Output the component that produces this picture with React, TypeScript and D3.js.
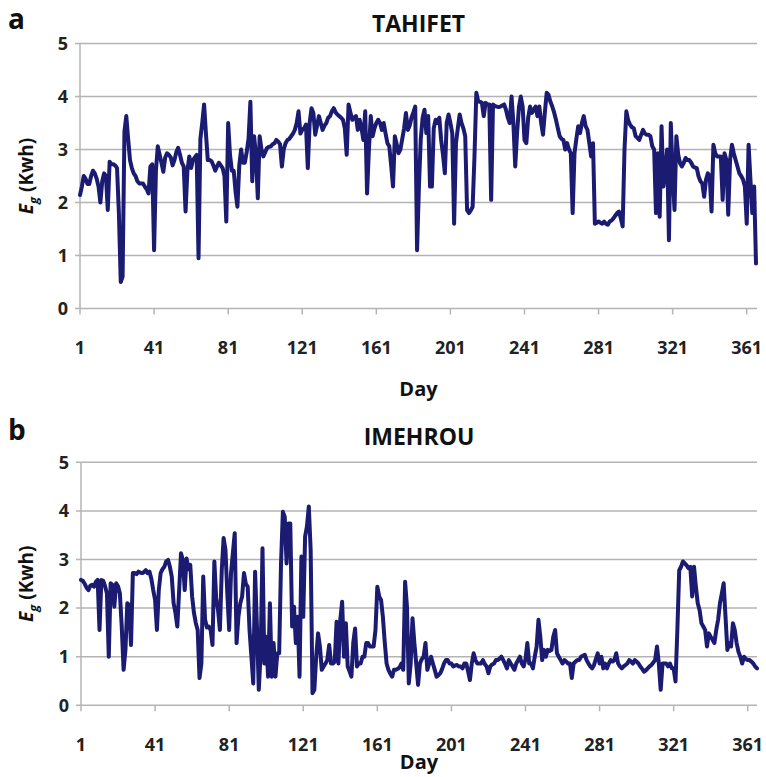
import React from "react";
import * as d3 from "d3";

// Daily energy yield E_g (kWh), one value per day of the year
const tahifet: number[] = [
  2.14, 2.3, 2.5, 2.45, 2.35, 2.35, 2.5, 2.6, 2.55, 2.45,
  2.3, 2.0, 2.4, 2.55, 2.5, 1.86, 2.77, 2.72, 2.72, 2.7,
  2.65, 1.8, 0.5, 0.6, 3.34, 3.63, 3.2, 2.8, 2.65, 2.55,
  2.5, 2.4, 2.36, 2.36, 2.36, 2.3, 2.25, 2.17, 2.68, 2.72,
  1.1, 2.6, 3.06, 2.9, 2.75, 2.58, 2.85, 2.93, 2.9, 2.85,
  2.7, 2.8, 2.95, 3.03, 2.9, 2.75, 2.68, 1.83, 2.6, 2.87,
  2.65, 2.8, 2.85, 2.9, 0.95, 3.2, 3.5, 3.85, 3.3, 2.8,
  2.8, 2.78, 2.7, 2.6, 2.68, 2.75, 2.7, 2.65, 2.5, 1.64,
  3.5, 2.9, 2.6, 2.6, 2.2, 1.92, 2.7, 3.0, 2.75, 2.75,
  2.95, 3.2, 3.9, 2.4, 3.25, 2.9, 2.08, 3.25, 3.0, 2.87,
  2.95, 3.03, 3.05, 3.06, 3.1, 3.12, 3.18, 3.15, 3.1, 2.68,
  3.0, 3.12, 3.18, 3.2, 3.25, 3.3, 3.37, 3.5, 3.72, 3.3,
  3.37, 3.4, 3.47, 2.65, 3.5, 3.78, 3.69, 3.28, 3.45, 3.63,
  3.5, 3.37, 3.45, 3.5, 3.6, 3.63, 3.72, 3.78, 3.7, 3.66,
  3.63, 3.6, 3.56, 3.4, 2.9, 3.85, 3.7, 3.56, 3.6, 3.63,
  3.37, 3.56, 3.4, 3.18, 3.72, 2.17, 3.0, 3.63, 3.25, 3.4,
  3.5, 3.56, 3.5, 3.37, 3.5, 3.3, 3.12, 3.06, 2.7, 2.3,
  3.25, 3.1, 2.93, 3.0, 3.2, 3.4, 3.69, 3.37, 3.45, 3.6,
  3.7, 3.81, 1.1, 2.3, 3.2, 3.6, 3.75, 3.31, 3.63, 2.3,
  2.3, 3.4, 3.56, 3.5, 3.6, 3.18, 2.9, 2.55, 3.5, 3.66,
  3.5, 3.31, 1.6, 3.12, 3.4, 3.66, 3.5, 3.4, 3.25, 1.86,
  1.8, 1.85, 1.92, 2.87, 4.07, 3.91, 3.9, 3.88, 3.63, 3.88,
  3.85, 3.85, 2.05, 3.85, 3.82, 3.81, 3.8, 3.81, 3.83, 3.85,
  3.75, 3.6, 3.5, 4.0, 3.5, 2.68, 3.31, 3.8, 4.0, 3.81,
  3.18, 3.12, 3.6, 3.81, 3.69, 3.75, 3.81, 3.63, 3.81, 3.5,
  3.28, 3.7, 4.07, 4.03, 3.9, 3.81, 3.7, 3.56, 3.4, 3.25,
  3.2, 3.18, 3.0, 3.12, 3.0, 2.93, 1.8, 2.93, 3.2, 3.44,
  3.31, 3.5, 3.63, 3.44, 3.37, 3.12, 2.87, 3.12, 1.6, 1.62,
  1.64, 1.62, 1.6, 1.64, 1.6, 1.58, 1.64, 1.66, 1.7, 1.75,
  1.8, 1.83, 1.7, 1.55, 3.0, 3.72, 3.55, 3.47, 3.42, 3.4,
  3.25, 3.22, 3.18, 3.28, 3.37, 3.3, 3.28, 3.28, 3.25, 3.06,
  3.0, 1.8, 2.93, 1.73, 3.44, 2.3, 2.6, 3.0, 1.29, 3.5,
  2.55, 1.86, 3.25, 2.9, 2.74, 2.68, 2.75, 2.84, 2.8, 2.8,
  2.75, 2.68, 2.66, 2.65, 2.49, 2.4, 2.36, 2.11, 2.43, 2.55,
  2.5, 1.83, 3.09, 2.93, 2.87, 2.87, 2.87, 2.05, 2.93, 2.8,
  1.77, 2.8, 3.09, 2.93, 2.8, 2.68, 2.55, 2.5, 2.43, 2.3,
  1.6, 3.09, 2.43, 1.8, 2.3, 0.85,
];

const imehrou: number[] = [
  2.58, 2.56, 2.5, 2.42, 2.37, 2.46, 2.48, 2.44, 2.54, 2.58,
  1.55, 2.58, 2.56, 2.45, 2.3, 1.0, 2.51, 2.48, 2.03, 2.51,
  2.45, 2.3, 1.62, 0.73, 1.14, 2.1, 2.06, 1.24, 2.72, 2.72,
  2.7, 2.75, 2.73, 2.72, 2.74, 2.78, 2.72, 2.75, 2.6, 2.37,
  2.17, 1.55, 2.37, 2.72, 2.8, 2.85, 2.96, 2.99, 2.85, 2.65,
  2.1, 1.9, 1.62, 2.37, 3.13, 2.99, 2.37, 3.02, 2.8, 2.89,
  2.24, 1.9, 1.69, 1.55, 0.56, 0.86, 2.65, 1.76, 1.6, 1.62,
  1.55, 1.24, 2.96, 2.2, 1.96, 1.55, 2.78, 3.44, 3.2, 2.3,
  1.55, 2.72, 3.13, 3.54, 1.28, 1.82, 2.1, 2.24, 2.72, 2.5,
  2.44, 1.55, 1.0, 0.45, 2.75, 1.62, 0.32, 1.07, 3.23, 0.86,
  1.41, 0.59, 2.1, 0.59, 1.28, 0.59, 1.07, 1.07, 2.92, 3.98,
  3.88, 2.92, 3.74, 3.74, 1.62, 2.03, 1.28, 1.82, 0.59, 3.06,
  1.82, 3.47, 3.68, 4.09, 3.2, 0.25, 0.32, 1.0, 1.48, 1.21,
  0.73, 0.8, 0.86, 0.93, 1.24, 0.86, 0.86, 0.9, 1.72, 0.86,
  1.76, 2.13, 1.0, 1.69, 0.8, 0.7, 0.59, 1.28, 1.58, 0.8,
  0.86, 0.86, 1.0, 1.0, 1.28, 1.28, 1.21, 1.21, 1.21, 1.55,
  2.44, 2.24, 2.17, 1.82, 1.3, 0.86, 0.73, 0.65, 0.59, 0.73,
  0.73, 0.75, 0.78, 0.86, 0.73, 2.54, 2.03, 0.45, 0.86, 1.79,
  1.28, 0.86, 0.42, 0.86, 0.95, 1.0, 1.28, 0.73, 0.86, 1.0,
  0.86, 0.73, 0.59, 0.62, 0.66, 0.75, 0.86, 0.93, 0.93, 0.86,
  0.86, 0.8, 0.82, 0.83, 0.8, 0.8, 0.76, 0.86, 0.86, 0.7,
  0.52, 0.86, 1.07, 0.93, 0.86, 0.86, 0.86, 0.93, 0.85, 0.8,
  0.66, 0.8, 0.84, 0.86, 0.93, 0.93, 0.96, 1.0, 0.93, 0.85,
  0.76, 0.93, 0.86, 0.8, 0.73, 0.86, 0.93, 1.0, 0.86, 0.8,
  0.95, 1.28, 0.86, 0.86, 0.76, 1.0, 1.2, 1.76, 1.41, 0.93,
  1.14, 1.0, 1.14, 1.12, 1.14, 1.41, 1.55, 1.07, 1.0, 0.93,
  0.86, 0.93, 0.9, 0.86, 0.86, 0.56, 0.86, 0.9, 0.93, 0.93,
  1.0, 1.02, 1.04, 0.93, 0.86, 0.8, 0.76, 0.83, 0.95, 1.07,
  0.86, 1.0, 0.76, 0.86, 0.76, 0.86, 0.93, 0.9, 0.93, 1.07,
  0.86, 0.8, 0.76, 0.8, 0.83, 0.86, 0.93, 0.9, 0.86, 0.93,
  0.9, 0.86, 0.8, 0.75, 0.69, 0.72, 0.76, 0.8, 0.83, 0.88,
  0.93, 1.21, 0.86, 0.32, 0.86, 0.86, 0.86, 0.8, 0.86, 0.76,
  0.76, 0.49, 1.55, 2.78, 2.85, 2.96, 2.92, 2.88, 2.82, 2.85,
  2.24, 2.85, 2.44, 2.1, 1.96, 1.69, 1.62, 1.55, 1.21, 1.48,
  1.41, 1.35, 1.28, 1.55, 1.76, 2.1, 2.3, 2.51, 1.82, 1.14,
  1.28, 1.21, 1.69, 1.55, 1.28, 1.1, 1.0, 0.86, 1.0, 0.95,
  0.93, 0.93, 0.9, 0.86, 0.8, 0.76,
];

const dayTicks: number[] = [1, 41, 81, 121, 161, 201, 241, 281, 321, 361];
const energyTicks: number[] = [0, 1, 2, 3, 4, 5];
const panelLetters: string[] = ["a", "b"];
const siteNames: string[] = ["TAHIFET", "IMEHROU"];

const W = 766;
const H = 777;
const FONT = "'Open Sans', 'DejaVu Sans', sans-serif";
const LINE = "#1b1b72";
const GRID = "#b4b4b4";

interface PanelProps {
  values: number[];
  letter: string;
  title: string;
  top: number; // y of the value 5 gridline
  bottom: number; // y of the value 0 axis
  left: number;
  right: number;
  lastX: number;
  letterY: number;
  titleY: number;
  tickLabelY: number;
  dayY: number;
}

function Panel(p: PanelProps) {
  const x = d3.scaleLinear().domain([1, p.values.length]).range([p.left, p.lastX]);
  const y = d3.scaleLinear().domain([0, 5]).range([p.bottom, p.top]);
  const line = d3
    .line<number>()
    .x((_, i) => x(i + 1))
    .y((v) => y(v));
  const midY = (p.top + p.bottom) / 2;
  const midX = (p.left + p.right) / 2;

  return (
    <g>
      <text x={8} y={p.letterY} fontFamily={FONT} fontWeight={700} fontSize={28} fill="#111">
        {p.letter}
      </text>
      <text x={midX} y={p.titleY} textAnchor="middle" fontFamily={FONT} fontWeight={700} fontSize={23} fill="#111">
        {p.title}
      </text>

      {energyTicks.map((t) => (
        <g key={"g" + t}>
          <line x1={p.left - 5} x2={p.right} y1={y(t)} y2={y(t)} stroke={GRID} strokeWidth={1.5} />
          <text
            x={p.left - 12}
            y={y(t)}
            dy="0.35em"
            textAnchor="end"
            fontFamily={FONT}
            fontWeight={700}
            fontSize={18}
            fill="#222"
          >
            {t}
          </text>
        </g>
      ))}
      <line x1={p.left} x2={p.left} y1={p.top} y2={p.bottom} stroke={GRID} strokeWidth={1.5} />

      {dayTicks.map((d) => (
        <g key={"d" + d}>
          <line x1={x(d)} x2={x(d)} y1={p.bottom} y2={p.bottom + 6} stroke={GRID} strokeWidth={1.5} />
          <text
            x={x(d)}
            y={p.tickLabelY}
            textAnchor="middle"
            fontFamily={FONT}
            fontWeight={700}
            fontSize={18}
            fill="#222"
          >
            {d}
          </text>
        </g>
      ))}

      <text x={midX} y={p.dayY} textAnchor="middle" fontFamily={FONT} fontWeight={700} fontSize={20} fill="#111">
        Day
      </text>

      <text
        transform={`translate(33, ${midY}) rotate(-90)`}
        textAnchor="middle"
        fontFamily={FONT}
        fontWeight={700}
        fontSize={19}
        fill="#111"
      >
        <tspan fontStyle="italic">E</tspan>
        <tspan fontStyle="italic" fontSize={13} dy={5}>
          g
        </tspan>
        <tspan dy={-5}> (Kwh)</tspan>
      </text>

      <path
        d={line(p.values) || ""}
        fill="none"
        stroke={LINE}
        strokeWidth={4}
        strokeLinejoin="round"
        strokeLinecap="round"
      />
    </g>
  );
}

export default function App() {
  return (
    <svg
      width={W}
      height={H}
      viewBox={`0 0 ${W} ${H}`}
      style={{ position: "absolute", left: 0, top: 0, background: "#fff" }}
    >
      <rect width={W} height={H} fill="#fff" />
      <Panel
        values={tahifet}
        letter={panelLetters[0]}
        title={siteNames[0]}
        top={43.5}
        bottom={308.5}
        left={80}
        right={757}
        lastX={756}
        letterY={29}
        titleY={32}
        tickLabelY={354}
        dayY={396}
      />
      <Panel
        values={imehrou}
        letter={panelLetters[1]}
        title={siteNames[1]}
        top={462.3}
        bottom={705.3}
        left={81}
        right={757}
        lastX={757}
        letterY={440}
        titleY={445}
        tickLabelY={751}
        dayY={769}
      />
    </svg>
  );
}
